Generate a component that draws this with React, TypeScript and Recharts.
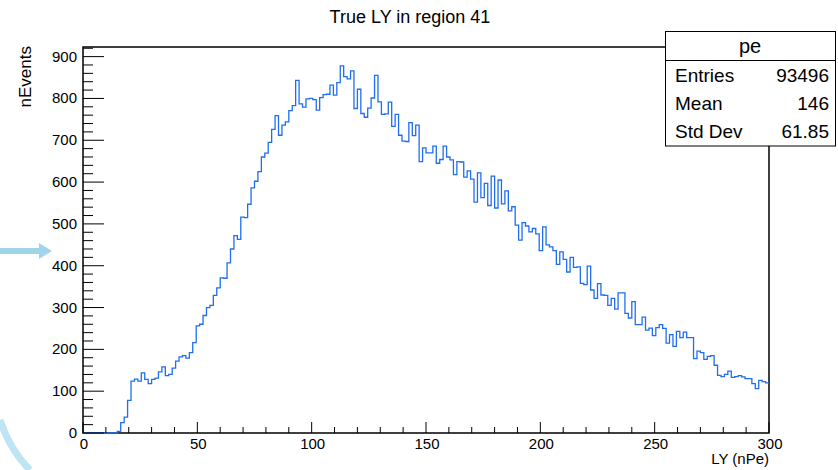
import React from 'react'
import { Line, LineChart, ReferenceArea, XAxis, YAxis } from 'recharts'

// bin contents, 200 bins of width 1.5 nPe from 0 to 300
const BIN_WIDTH = 1.5
const counts = [
  0, 0, 0, 0, 0, 0, 0, 0, 0, 0,
  4, 25, 38, 78, 124, 129, 124, 144, 128, 118,
  128, 131, 146, 158, 137, 140, 155, 172, 182, 185,
  179, 192, 216, 256, 260, 281, 300, 305, 329, 347,
  371, 370, 407, 440, 472, 463, 516, 515, 547, 586,
  602, 625, 660, 669, 695, 726, 759, 712, 736, 744,
  771, 783, 843, 787, 779, 799, 800, 797, 772, 802,
  809, 810, 832, 808, 838, 878, 852, 847, 866, 776,
  822, 764, 755, 777, 801, 855, 792, 762, 763, 791,
  733, 762, 712, 698, 697, 742, 711, 736, 649, 682,
  670, 670, 686, 645, 654, 686, 660, 653, 618, 649,
  648, 612, 627, 607, 552, 622, 563, 597, 544, 614,
  538, 605, 548, 579, 531, 541, 497, 461, 503, 495,
  481, 489, 476, 436, 493, 450, 445, 436, 403, 433,
  415, 385, 420, 396, 397, 358, 355, 399, 342, 322,
  357, 330, 329, 305, 322, 296, 335, 335, 286, 275,
  314, 259, 259, 277, 246, 251, 233, 252, 259, 250,
  215, 235, 207, 243, 228, 241, 228, 228, 178, 196,
  192, 176, 183, 185, 162, 138, 135, 140, 148, 133,
  135, 137, 134, 130, 130, 118, 106, 126, 123, 120,
]

const xTicks = Array.from({ length: 31 }, (_, i) => i * 10)
const yTicks = Array.from({ length: 47 }, (_, i) => i * 20)

const statLabels = ['Entries', 'Mean', 'Std Dev']
const statValues = ['93496', '146', '61.85']

// step points at the left edge of each bin, closed at x = 300
const histData = counts
  .map((v, i) => ({ x: i * BIN_WIDTH, v }))
  .concat([{ x: counts.length * BIN_WIDTH, v: counts[counts.length - 1] }])

const FONT = '"Liberation Sans", Arial, Helvetica, sans-serif'
const W = 838
const H = 470

// ROOT-style ticks: drawn inward from the frame, labels only on majors
const YTick = (props: any) => {
  const { x, y, payload } = props
  const major = payload.value % 100 === 0
  return (
    <g>
      <line x1={x} x2={x + (major ? 21 : 10)} y1={y} y2={y} stroke="#000" strokeWidth={1} />
      {major && (
        <text x={x - 6} y={y} dy={5} textAnchor="end" fontSize={15} fontFamily={FONT} fill="#000">
          {payload.value}
        </text>
      )}
    </g>
  )
}

const XTick = (props: any) => {
  const { x, y, payload } = props
  const major = payload.value % 50 === 0
  return (
    <g>
      <line x1={x} x2={x} y1={y} y2={y - (major ? 11 : 6)} stroke="#000" strokeWidth={1} />
      {major && (
        <text x={x + 1} y={y + 16} textAnchor="middle" fontSize={15} fontFamily={FONT} fill="#000">
          {payload.value}
        </text>
      )}
    </g>
  )
}

export default function App() {
  return (
    <div style={{ position: 'absolute', left: 0, top: 0, width: W, height: H, background: '#fff' }}>
      <LineChart width={W} height={H} data={histData} margin={{ top: 47, right: 69, bottom: 0, left: 0 }}>
        <XAxis
          dataKey="x"
          type="number"
          domain={[0, 300]}
          ticks={xTicks}
          interval={0}
          height={37}
          tickSize={0}
          tickMargin={0}
          tickLine={false}
          axisLine={false}
          tick={XTick}
        />
        <YAxis
          type="number"
          domain={[0, 923]}
          ticks={yTicks}
          interval={0}
          width={83}
          tickSize={0}
          tickMargin={0}
          tickLine={false}
          axisLine={false}
          tick={YTick}
        />
        <ReferenceArea x1={0} x2={300} y1={0} y2={923} stroke="#000" strokeWidth={1.5} fill="none" ifOverflow="visible" />
        <Line
          type="stepAfter"
          dataKey="v"
          stroke="#1f6ef0"
          strokeWidth={1.3}
          dot={false}
          activeDot={false}
          isAnimationActive={false}
        />
      </LineChart>

      <svg width={W} height={H} style={{ position: 'absolute', left: 0, top: 0, pointerEvents: 'none' }}>
        {/* pale arrow and swoosh at the left border */}
        <polygon points="0,248 39,248 39,243 52,251 39,259 39,254 0,254" fill="#8fcde8" opacity={0.85} />
        <path d="M 0 420 Q 10 450 30 470" stroke="#bfe4f3" strokeWidth={7} fill="none" />

        <text x={410} y={23} textAnchor="middle" fontSize={18} fontFamily={FONT} fill="#000">
          True LY in region 41
        </text>
        <text
          x={0}
          y={0}
          transform="translate(31,46) rotate(-90)"
          textAnchor="end"
          fontSize={17}
          fontFamily={FONT}
          fill="#000"
        >
          nEvents
        </text>
        <text x={769} y={464} textAnchor="end" fontSize={15} fontFamily={FONT} fill="#000">
          LY (nPe)
        </text>

        <rect x={665.5} y={31.5} width={170} height={114.5} fill="#fff" stroke="#000" strokeWidth={1} />
        <line x1={665.5} x2={835.5} y1={60.5} y2={60.5} stroke="#000" strokeWidth={1} />
        <text x={750} y={53} textAnchor="middle" fontSize={20} fontFamily={FONT} fill="#000">
          pe
        </text>
        {statLabels.map((label, i) => (
          <g key={label}>
            <text x={675} y={82 + i * 28} fontSize={19} fontFamily={FONT} fill="#000">
              {label}
            </text>
            <text x={829} y={82 + i * 28} textAnchor="end" fontSize={19} fontFamily={FONT} fill="#000">
              {statValues[i]}
            </text>
          </g>
        ))}
      </svg>
    </div>
  )
}
